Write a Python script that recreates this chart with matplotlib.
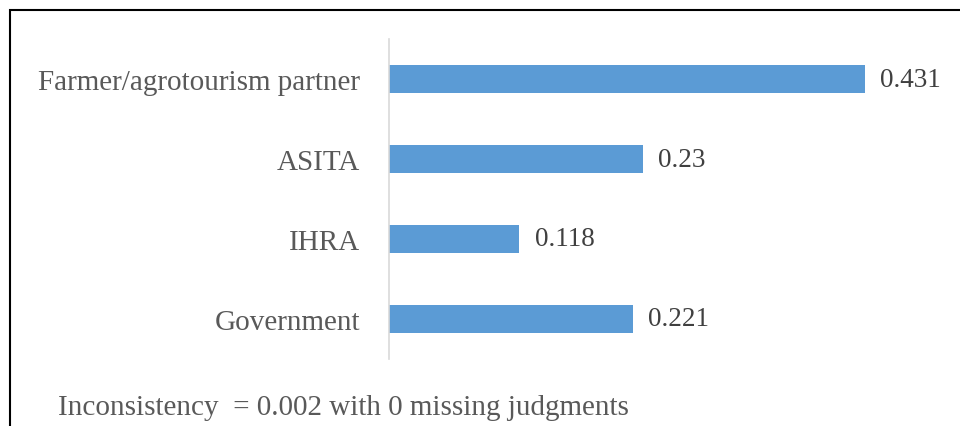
import matplotlib
matplotlib.use("Agg")
import matplotlib.pyplot as plt
from matplotlib.patches import Rectangle

categories = ["Farmer/agrotourism partner", "ASITA", "IHRA", "Government"]
values = [0.431, 0.23, 0.118, 0.221]
value_labels = ["0.431", "0.23", "0.118", "0.221"]
note = "Inconsistency  = 0.002 with 0 missing judgments"

W, H = 960, 427
fig = plt.figure(figsize=(W / 100, H / 100), dpi=100)
plt.rcParams['font.family'] = ['Liberation Serif', 'DejaVu Serif']

# outer border (left and top visible)
fig.patches.append(Rectangle((10 / W, -0.1), 1.2, (H - 11) / H + 0.1,
                             transform=fig.transFigure, fill=False,
                             edgecolor='black', linewidth=1.5))

left = 389 / W
bottom = (H - 360) / H
top = (H - 40) / H
xmax = 0.5
width = (0.5 * 1104) / W
ax = fig.add_axes([left, bottom, width, top - bottom])

y = list(range(len(categories)))
ax.barh(y, values, height=0.36, color='#5B9BD5')
ax.set_ylim(3.5, -0.5)
ax.set_xlim(0, xmax)
ax.set_yticks(y)
ax.set_yticklabels(categories, fontsize=21, color='#595959')
ax.tick_params(axis='y', length=0, pad=21)
ax.set_xticks([])
for s in ['top', 'right', 'bottom']:
    ax.spines[s].set_visible(False)
ax.spines['left'].set_color('#D9D9D9')
ax.spines['left'].set_linewidth(1.2)

for yi, v, lab in zip(y, values, value_labels):
    ax.annotate(lab, (v, yi), xytext=(11, 0), textcoords='offset points',
                fontsize=19.5, color='#404040', va='center', ha='left')

fig.text(58 / W, (H - 408) / H, note, fontsize=21, color='#595959',
         va='center', ha='left')

fig.savefig("out.png", dpi=100)
